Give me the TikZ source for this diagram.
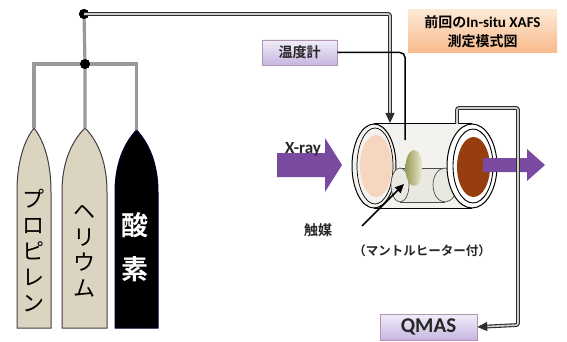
\documentclass[tikz,border=0pt]{standalone}
\usepackage{fontspec}
\setmainfont{Carlito}
\newfontfamily\jp{Noto Sans CJK JP}
\newfontfamily\jpb{Noto Sans CJK JP Bold}
\usetikzlibrary{arrows.meta,calc}

\definecolor{tank}{RGB}{218,212,192}
\definecolor{beam}{RGB}{122,74,160}
\definecolor{peach}{RGB}{246,214,190}
\definecolor{rust}{RGB}{150,62,16}
\definecolor{lavtop}{RGB}{242,237,250}
\definecolor{lavbot}{RGB}{198,182,224}
\definecolor{orgtop}{RGB}{253,232,212}
\definecolor{orgbot}{RGB}{249,186,140}
\definecolor{cellbody}{RGB}{243,242,238}
\definecolor{heater}{RGB}{234,233,225}

\tikzset{
  pipe/.style={double=gray!40, draw=gray!35!black, line width=1.1pt, double distance=1.6pt, rounded corners=2pt},
  gasline/.style={draw=gray!80, line width=3.2pt},
  tip/.style={-{Triangle[length=10pt,width=9pt]}},
  labelbox/.style={draw=gray!60!violet!60, line width=0.6pt, top color=lavtop, bottom color=lavbot,
                   inner sep=0pt, text=black!85},
  titlebox/.style={top color=orgtop, bottom color=orgbot, inner sep=0pt, align=center},
  tankline/.style={draw=black!75, line width=1pt},
  beamarrow/.style={fill=beam, draw=none},
  junction/.style={circle, fill=black, inner sep=0pt, minimum size=10pt}
}

\begin{document}
\begin{tikzpicture}[x=1pt,y=-1pt]
\useasboundingbox (0,0) rectangle (567,342);

% ---- gas cylinders ----
\draw[tankline, fill=tank] (17,328) -- (17,192) .. controls (17,156) and (27,137) .. (34,128)
      .. controls (41,137) and (51,156) .. (51,192) -- (51,328) -- cycle;
\draw[tankline, fill=tank] (62,328) -- (62,192) .. controls (62,156) and (76,137) .. (85,128)
      .. controls (94,137) and (107,156) .. (107,192) -- (107,328) -- cycle;
\draw[draw=black!80!blue, line width=1pt, fill=black] (115,328) -- (115,192) .. controls (115,158) and (128,139) .. (136.5,130)
      .. controls (145,139) and (158,158) .. (158,192) -- (158,328) -- cycle;

\node[font=\jp\fontsize{22}{26}\selectfont, align=center] (propylene) at (34,251) {プ\\ロ\\ピ\\レ\\ン};
\node[font=\jp\fontsize{22}{25.5}\selectfont, align=center] (helium) at (84,251) {ヘ\\リ\\ウ\\ム};
\node[font=\jpb\fontsize{27}{44}\selectfont, align=center, text=white] (oxygen) at (135,247) {酸\\素};

% ---- gas manifold ----
\coordinate (pTop) at (34,128);
\coordinate (hTop) at (85,128);
\coordinate (oTop) at (136.5,130);
\node[junction] (mix) at (85,64) {};
\node[junction] (feed) at (84,14) {};
\draw[gasline] (pTop) -- (34,64) -- (136.5,64) -- (oTop);
\draw[gasline] (hTop) -- (mix.center) -- (feed.center);
\fill (mix) circle [radius=5pt] (feed) circle [radius=5pt];

% ---- in-situ cell ----
% outer tube
\fill[cellbody] (374,124) rectangle (472,208);
\draw[line width=1pt] (374,124) -- (472,124) (374,208) -- (472,208);
% entrance window
\draw[line width=1pt, fill=cellbody] (374,166) ellipse [x radius=22pt, y radius=42pt];
\draw[line width=0.7pt] (375,166) ellipse [x radius=18pt, y radius=38pt];
\fill[peach] (376,166) ellipse [x radius=16pt, y radius=31pt];
% mantle heater
\fill[heater] (400,168) rectangle (445,202);
\draw[black!70, line width=0.7pt] (400,168) -- (445,168) (400,202) -- (445,202);
\draw[black!70, line width=0.7pt, fill=heater] (400,185) ellipse [x radius=9pt, y radius=17pt];
\draw[black!70, line width=0.7pt, fill=heater] (445,185) ellipse [x radius=12pt, y radius=17pt];
% catalyst pellet
\shade[left color=gray!70!olive!80, right color=gray!20!olive!15] (414,168) ellipse [x radius=8.5pt, y radius=18pt];
% exit window
\draw[line width=1pt, fill=white] (472,166) ellipse [x radius=25pt, y radius=42pt];
\draw[line width=0.9pt] (473,166) ellipse [x radius=20pt, y radius=37pt];
\fill[rust] (473.5,167) ellipse [x radius=16.5pt, y radius=30pt];

\coordinate (cellIn) at (390,123);
\coordinate (cellOut) at (457,124);
\coordinate (probe) at (405,140);
\coordinate (pellet) at (404,184);

% ---- X-ray beam ----
\fill[beamarrow] (277,153) -- (325,153) -- (325,138) -- (342,165) -- (325,192) -- (325,177) -- (277,177) -- cycle;
\fill[beamarrow] (483,158) -- (527,158) -- (527,149) -- (545,165) -- (527,181) -- (527,172) -- (483,172) -- cycle;
\node[font=\bfseries\fontsize{17}{19}\selectfont, text=black!85] (xray) at (303,149) {X-ray};

% ---- boxes ----
\node[labelbox, minimum width=75pt, minimum height=25pt, font=\jpb\fontsize{14}{16}\selectfont]
  (thermo) at (299.5,52.5) {温度計};
\node[labelbox, minimum width=97pt, minimum height=26pt, font=\bfseries\fontsize{21}{23}\selectfont]
  (qmas) at (428.5,327) {QMAS};
\node[titlebox, minimum width=149pt, minimum height=43pt, font=\jpb\fontsize{14}{19}\selectfont]
  (title) at (482.5,31.5) {前回の{\rmfamily\bfseries\fontsize{15}{19}\selectfont In-situ XAFS}\\測定模式図};

% ---- labels ----
\node[font=\jpb\fontsize{14}{16}\selectfont, text=black!85] (catalyst) at (318,230) {触媒};
\node[font=\jpb\fontsize{12.5}{15}\selectfont, text=black!85] (mantle) at (422,251) {（マントルヒーター付）};

% ---- connectors ----
\draw[pipe, tip] (feed.center) -- (390,14) -- (cellIn);
\draw[pipe, tip] (cellOut) -- (457,108) -- (518,108) -- (518,325) -- (qmas.east);
\draw[line width=1.5pt, rounded corners=5pt] (thermo.east) -- (405,52.5) -- (probe);
\draw[line width=1.5pt, -{Triangle[length=9pt,width=8pt]}] (362,226) -- (pellet);

\end{tikzpicture}
\end{document}
